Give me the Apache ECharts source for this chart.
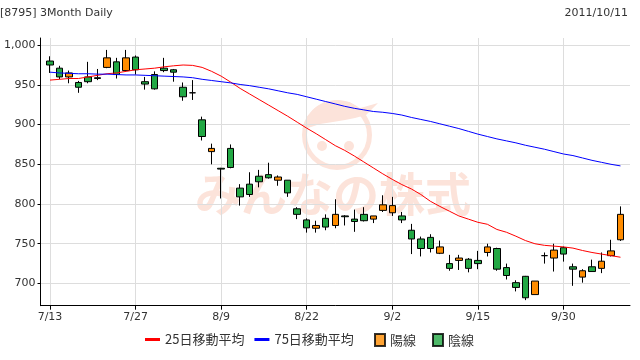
<!DOCTYPE html>
<html><head><meta charset="utf-8">
<script src="https://cdn.jsdelivr.net/npm/echarts@6/dist/echarts.min.js"></script>
<style>html,body{margin:0;padding:0;background:#fff}#c{width:640px;height:360px}</style>
</head><body><div id="c"></div>
<script>
const dates = ['7/13','7/14','7/15','7/19','7/20','7/21','7/22','7/25','7/26','7/27','7/28','7/29','8/1','8/2','8/3','8/4','8/5','8/8','8/9','8/10','8/11','8/12','8/15','8/16','8/17','8/18','8/19','8/22','8/23','8/24','8/25','8/26','8/29','8/30','8/31','9/1','9/2','9/5','9/6','9/7','9/8','9/9','9/12','9/13','9/14','9/15','9/16','9/20','9/21','9/22','9/26','9/27','9/28','9/29','9/30','10/3','10/4','10/5','10/6','10/7','10/11'];
const opens  = [980,971,960,953,960,959,972,979,968,985,954,963,971,969,947,940,906,866,845,870,820,825,835,837,830,830,794,780,769.5,782,773,785,781,787,781,792,789,785,767,756,758,738,725,729,730.5,729,739,744,720,701,709,686,735,732,745,721,708,721,719,735,755];
const closes = [975,960,965,947,954,958,984,963,984,969,951,945,968,966,935,940,885,870,844,846,809,812,828,833,834,814,787,770,773,771,787,784,778,779,785,799,798,780,756,744,744,746,719,732,719,725,746,718,710,695,682,703,735,742,737,718,716,715,728,741,787];
const lows   = [965,957,952,940,952,956,971,958,967,963,944,944,966,954,930,931,880,850,807,845,798,809,821,832,823,809,781,764,764,767,769.5,773,765,778,776,790,785,776,737,734,739,737,716,717,714,718,734,716,705,690,679,686,725,715,727.5,697,701,715,713,734,753.5];
const highs  = [986,974,968,955,979,970,994,984,994,987,960,967,984,970,953,956,910,876,845.5,875,825,840,843,852,836,830,796,782,779,787,806,786,793,796,785,811,809,790,775,759,762,754,736,736,732,741,750,745,725,704,709.5,703,739,750,746.5,725,718,730,739,755,797];
const ma25 = [956,957,958,958,960,962,964,965,967,969,970,971,972.7,974,975,974.5,972,967,961,953.5,945.5,938.5,931.5,924.5,917.5,910.5,903,895.5,888.5,881,873.5,867.5,860.5,853,845.5,838,831,824.5,819,812,803.5,797,791,785,781,777,774.5,768,764.5,759.5,754,750,748,747,746,744.5,741.5,739,737,735,733];
const ma75 = [966,965,964.5,964,964,963.5,963.5,963,962.5,962.5,962,961.5,961,960.5,960,959,957,955.5,954,952.5,950.5,949,947,945,942.5,940,938,935,932,929,926,923,920.5,918.5,916.5,915.5,914,912,909,906.5,904,901,898,895,891.5,888,885,882,879.5,877,874,871.5,869,866,863,861,858,855,852.5,850,848];
const yTicks = [700,750,800,850,900,950,1000];

const cats = [''].concat(dates, ['']);
const candleData = dates.map((d, i) => [i + 1, opens[i], closes[i], lows[i], highs[i]]);
const ma25Data = ma25.map((v, i) => [i + 1, v]);
const ma75Data = ma75.map((v, i) => [i + 1, v]);
const showIdx = (idx) => idx >= 1 && idx <= dates.length && (idx - 1) % 9 === 0;

const UP = '#ff8c00', DOWN = '#22a844', WM = '#fce3da';
const latin = 'DejaVu Sans';
const cjk = '"Noto Sans CJK JP"';

const chart = echarts.init(document.getElementById('c'), null, {renderer: 'canvas'});
chart.setOption({
  animation: false,
  backgroundColor: '#fff',
  title: [
    {text: '[8795] 3Month Daily', left: 0, top: 8, padding: 0,
     textStyle: {fontSize: 11, fontWeight: 'normal', color: '#333', fontFamily: latin}},
    {text: '2011/10/11', right: 12, top: 8, padding: 0,
     textStyle: {fontSize: 11, fontWeight: 'normal', color: '#333', fontFamily: latin}}
  ],
  graphic: [
    {type: 'text', x: 333, y: 194, z: -5, silent: true,
     style: {text: 'みんなの株式', font: 'bold 46px "Noto Sans CJK JP"', fill: WM, align: 'center', verticalAlign: 'middle'}},
    {type: 'circle', z: -5, silent: true, shape: {cx: 337, cy: 135, r: 32.5},
     style: {fill: 'none', stroke: WM, lineWidth: 5}},
    {type: 'circle', z: -5, silent: true, shape: {cx: 322, cy: 146, r: 5}, style: {fill: WM}},
    {type: 'circle', z: -5, silent: true, shape: {cx: 349, cy: 146, r: 5}, style: {fill: WM}},
    {type: 'polygon', z: -5, silent: true,
     shape: {points: [[302.5,129],[306.7,117.5],[314.5,108.2],[325,102.1],[337,100],[349,102.1],[359.5,108.2],[378,103],[366,115],[355,118],[345,120],[333,122],[320,124],[308,128]]},
     style: {fill: WM}}
  ],
  legend: [
    {data: [{name: '25日移動平均', icon: 'rect'}, {name: '75日移動平均', icon: 'rect'}],
     left: 145, top: 333, itemWidth: 15, itemHeight: 3, itemGap: 10, padding: 0,
     textStyle: {fontSize: 13, color: '#333', fontFamily: cjk}},
    {data: [{name: '陽線', icon: 'rect'}, {name: '陰線', icon: 'rect'}],
     left: 374, top: 333, itemWidth: 10, itemHeight: 12, itemGap: 16, padding: 0,
     textStyle: {fontSize: 13, color: '#333', fontFamily: cjk}}
  ],
  grid: {left: 40.5, right: 10, top: 38, bottom: 54.3, containLabel: false, outerBoundsMode: 'none'},
  xAxis: {
    type: 'category', data: cats, boundaryGap: false,
    axisLine: {lineStyle: {color: '#000', width: 1}},
    axisTick: {interval: showIdx, length: 4, lineStyle: {color: '#000'}},
    axisLabel: {interval: showIdx, margin: 6, fontSize: 11, color: '#333', fontFamily: latin},
    splitLine: {show: true, interval: showIdx, lineStyle: {color: '#dddddd', width: 1}}
  },
  yAxis: {
    type: 'value', min: 672, max: 1009, splitNumber: 7,
    axisLine: {show: true, lineStyle: {color: '#000', width: 1}},
    axisTick: {show: true, length: 3, lineStyle: {color: '#000'}},
    axisLabel: {showMinLabel: false, showMaxLabel: false, margin: 5, fontSize: 11, color: '#333', fontFamily: latin,
      formatter: (v) => yTicks.indexOf(v) >= 0 ? v.toLocaleString('en-US') : ''},
    splitLine: {show: true, showMinLine: false, showMaxLine: false, lineStyle: {color: '#dddddd', width: 1}}
  },
  series: [
    {type: 'candlestick', name: 'price', barWidth: 7,
     dimensions: ['idx', 'open', 'close', 'lowest', 'highest'],
     encode: {x: 'idx', y: ['open', 'close', 'lowest', 'highest']},
     data: candleData,
     itemStyle: {color: UP, color0: DOWN, borderColor: '#000', borderColor0: '#000', borderWidth: 1}},
    {type: 'line', name: '25日移動平均', data: ma25Data, showSymbol: false, symbol: 'none',
     lineStyle: {color: '#ff0000', width: 1}, itemStyle: {color: '#ff0000'}, z: 3},
    {type: 'line', name: '75日移動平均', data: ma75Data, showSymbol: false, symbol: 'none',
     lineStyle: {color: '#0000ff', width: 1}, itemStyle: {color: '#0000ff'}, z: 3},
    {type: 'scatter', name: '陽線', data: [], itemStyle: {color: UP, borderColor: '#000', borderWidth: 1}},
    {type: 'scatter', name: '陰線', data: [], itemStyle: {color: DOWN, borderColor: '#000', borderWidth: 1}}
  ]
});
</script>
</body></html>
